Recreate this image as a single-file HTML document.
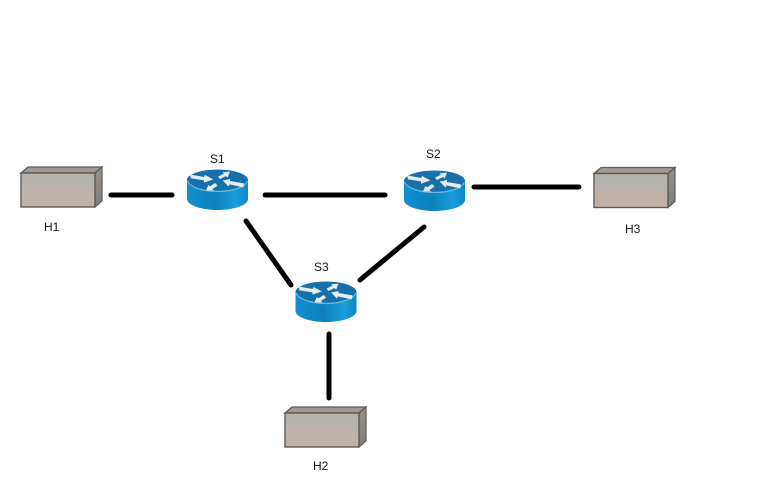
<!DOCTYPE html>
<html>
<head>
<meta charset="utf-8">
<style>
html,body{margin:0;padding:0;background:#fff;width:767px;height:498px;overflow:hidden}
svg{display:block}
text{font-family:"Liberation Sans",sans-serif;font-size:12px;fill:#111}
</style>
</head>
<body>
<svg width="767" height="498" viewBox="0 0 767 498" xmlns="http://www.w3.org/2000/svg">
<defs>
<linearGradient id="front" x1="0" y1="0" x2="0" y2="1">
<stop offset="0" stop-color="#b3b3b1"/>
<stop offset="1" stop-color="#c2b2a6"/>
</linearGradient>
<linearGradient id="side" x1="0" y1="0" x2="0" y2="1">
<stop offset="0" stop-color="#9a9086"/>
<stop offset="1" stop-color="#7f7f7f"/>
</linearGradient>
<linearGradient id="body" x1="0" y1="0" x2="1" y2="0">
<stop offset="0" stop-color="#1090d0"/>
<stop offset="0.45" stop-color="#0c7fbd"/>
<stop offset="0.8" stop-color="#1a9ddb"/>
<stop offset="1" stop-color="#0e86c4"/>
</linearGradient>
<g id="host">
<path d="M0 6 L7 0 H81 L74 6 Z" fill="#a3998f" stroke="#5a5a5a" stroke-width="1.2"/>
<path d="M74 6 L81 0 V34 L74 40 Z" fill="url(#side)" stroke="#5a5a5a" stroke-width="1.2"/>
<rect x="0" y="6" width="74" height="34" fill="url(#front)" stroke="#5a5a5a" stroke-width="1.400"/>
</g>
<g id="router">
<path d="M0 10 V29 C0 35 14 40 30.500 40 C47 40 61 35 61 29 V10 Z" fill="url(#body)"/>
<ellipse cx="30.500" cy="10" rx="30.500" ry="10.500" fill="#1670a9"/>
<path d="M0.500 11 C3 17 15 21.500 30.500 21.500 C46 21.500 58 17 60.500 11" fill="none" stroke="#6db8dd" stroke-width="1.200"/>
<g transform="translate(-7,-5) scale(0.3333)" fill="#e6ebee">
<path d="M30 28 L72 36 L75 30 L100 43 L72 53 L72 46 L33 40 Z"/>
<path d="M150 20 L143 38 L138 33 L120 42 L114 35 L132 26 L127 22 Z"/>
<path d="M128 47 L150 42 L150 48 L192 55 L190 67 L148 58 L146 65 Z"/>
<path d="M78 76 L85 60 L90 64 L105 54 L113 62 L97 72 L102 77 Z"/>
</g>
</g>
</defs>

<g stroke="#000" stroke-width="5" stroke-linecap="round" fill="none">
<line x1="111" y1="195" x2="172" y2="195"/>
<line x1="265" y1="195" x2="385" y2="195"/>
<line x1="474" y1="187" x2="579" y2="187"/>
<line x1="246" y1="221" x2="291" y2="285"/>
<line x1="424" y1="227" x2="360" y2="280"/>
<line x1="329" y1="334" x2="329" y2="398"/>
</g>

<use href="#host" x="21" y="167"/>
<use href="#host" x="594" y="167.500"/>
<use href="#host" x="285" y="407"/>

<use href="#router" x="187" y="170"/>
<use href="#router" x="404" y="171"/>
<use href="#router" x="295.500" y="282"/>

<text x="210" y="163">S1</text>
<text x="426" y="158">S2</text>
<text x="314" y="271">S3</text>
<text x="44" y="231">H1</text>
<text x="625" y="233">H3</text>
<text x="313" y="470">H2</text>
</svg>
</body>
</html>
